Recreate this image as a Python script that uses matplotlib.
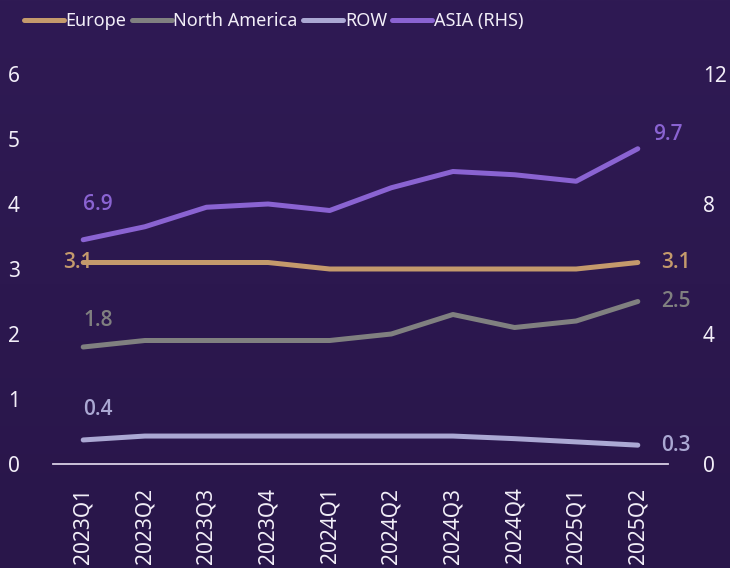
import matplotlib
matplotlib.use("Agg")
import matplotlib.pyplot as plt
import numpy as np
from matplotlib.colors import LinearSegmentedColormap

quarters = ["2023Q1", "2023Q2", "2023Q3", "2023Q4", "2024Q1",
            "2024Q2", "2024Q3", "2024Q4", "2025Q1", "2025Q2"]
europe = [3.1, 3.1, 3.1, 3.1, 3.0, 3.0, 3.0, 3.0, 3.0, 3.1]
north_america = [1.8, 1.9, 1.9, 1.9, 1.9, 2.0, 2.3, 2.1, 2.2, 2.5]
row = [0.37, 0.43, 0.43, 0.43, 0.43, 0.43, 0.43, 0.39, 0.34, 0.29]
asia = [6.9, 7.3, 7.9, 8.0, 7.8, 8.5, 9.0, 8.9, 8.7, 9.7]

left_ticks = [0, 1, 2, 3, 4, 5, 6]
right_ticks = [0, 4, 8, 12]

TXT = "#F2EEF8"
C_EU = "#C49A6C"
C_NA = "#808080"
C_ROW = "#ABA8D3"
C_AS = "#8A63D2"

plt.rcParams['font.family'] = ['Noto Sans', 'DejaVu Sans']

fig = plt.figure(figsize=(7.30, 5.68), dpi=100)
bg_ax = fig.add_axes([0, 0, 1, 1], zorder=-10)
grad = np.linspace(0, 1, 256).reshape(-1, 1)
cm = LinearSegmentedColormap.from_list("bg", ["#2F1A54", "#29164A"])
bg_ax.imshow(grad, aspect='auto', cmap=cm, extent=[0, 1, 0, 1], origin='upper')
bg_ax.axis('off')

ax = fig.add_axes([53/730, 104/568, 615/730, 390/568])
ax.patch.set_alpha(0)
ax2 = ax.twinx()
ax2.patch.set_alpha(0)

x = np.arange(len(quarters))
lw = 3.6
kw = dict(lw=lw, solid_capstyle='round', solid_joinstyle='round', zorder=3)
l1, = ax.plot(x, europe, color=C_EU, label="Europe", **kw)
l2, = ax.plot(x, north_america, color=C_NA, label="North America", **kw)
l3, = ax.plot(x, row, color=C_ROW, label="ROW", **kw)
l4, = ax2.plot(x, asia, color=C_AS, label="ASIA (RHS)", **kw)

ax.set_xlim(-0.49, 9.49)
ax.set_ylim(0, 6)
ax2.set_ylim(0, 12)
ax.set_yticks(left_ticks)
ax2.set_yticks(right_ticks)
ax.set_xticks(x)
ax.set_xticklabels(quarters, rotation=90)

for a in (ax, ax2):
    for s in a.spines.values():
        s.set_visible(False)
ax.spines['bottom'].set_visible(True)
ax.spines['bottom'].set_color("#D8D0E4")
ax.spines['bottom'].set_linewidth(1.3)

fs = 15
ax.tick_params(axis='y', length=0, pad=24, labelcolor=TXT, labelsize=fs)
ax2.tick_params(axis='y', length=0, pad=25, labelcolor=TXT, labelsize=fs)
ax.tick_params(axis='x', length=0, pad=17, labelcolor=TXT, labelsize=fs)

lab_kw = dict(textcoords='offset pixels', fontsize=15, fontweight='semibold',
              family=['Open Sans', 'Noto Sans', 'DejaVu Sans'], zorder=2)
ax2.annotate(f"{asia[0]:.1f}", (x[0], asia[0]), xytext=(0, 25), ha='left', va='bottom', color=C_AS, **lab_kw)
ax.annotate(f"{north_america[0]:.1f}", (x[0], north_america[0]), xytext=(0, 16), ha='left', va='bottom', color=C_NA, **lab_kw)
ax.annotate(f"{row[0]:.1f}", (x[0], row[0]), xytext=(0, 20), ha='left', va='bottom', color=C_ROW, **lab_kw)
ax.annotate(f"{europe[0]:.1f}", (x[0], europe[0]), xytext=(9, 0), ha='right', va='center', color=C_EU, **lab_kw)
ax2.annotate(f"{asia[-1]:.1f}", (x[-1], asia[-1]), xytext=(15, 14), ha='left', va='center', color=C_AS, **lab_kw)
ax.annotate(f"{europe[-1]:.1f}", (x[-1], europe[-1]), xytext=(23, 0), ha='left', va='center', color=C_EU, **lab_kw)
ax.annotate(f"{north_america[-1]:.1f}", (x[-1], north_america[-1]), xytext=(23, 0), ha='left', va='center', color=C_NA, **lab_kw)
ax.annotate(f"{row[-1]:.1f}", (x[-1], row[-1]), xytext=(23, 0), ha='left', va='center', color=C_ROW, **lab_kw)

leg = fig.legend(handles=[l1, l2, l3, l4], loc='upper left', bbox_to_anchor=(24/730, 1 - 12/568),
                 ncol=4, frameon=False, fontsize=13, handlelength=2.2, handletextpad=0.1,
                 columnspacing=0.3, labelcolor=TXT, borderpad=0, borderaxespad=0)

fig.savefig("out.png", dpi=100)
